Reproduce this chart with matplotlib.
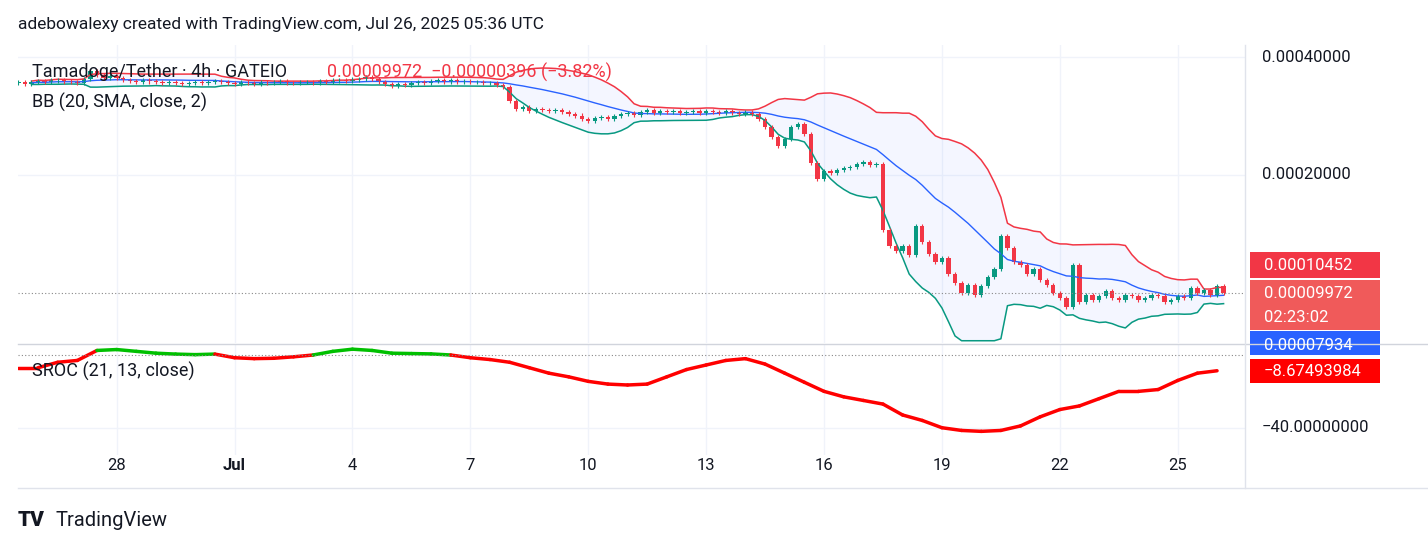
import numpy as np, pandas as pd
import matplotlib
matplotlib.use("Agg")
import matplotlib.pyplot as plt
from matplotlib.lines import Line2D

plt.rcParams["font.family"] = "Roboto"

# 4h closes (x1e-5) starting Jun 25 12:00
closes_e5 = [34.5,34.2,34.6,
 34.8,34.5,34.9,35.0,34.7,34.6, 34.4,35.2,36.8,36.0,35.5,35.8,
 35.4,35.0,34.8,34.6,34.9,34.7, 34.5,34.3,34.6,34.4,34.2,34.4,
 34.6,34.3,34.5,34.8,34.5,34.3, 34.2,34.5,34.4,34.2,34.6,34.3,
 34.5,34.7,34.4,34.3,34.5,34.6, 34.4,34.8,34.6,34.9,35.0,34.8,
 35.1,35.3,35.6,35.2,34.5,34.1, 33.8,34.2,34.0,34.3,34.6,34.4,
 34.8,35.0,34.7,34.9,34.6,34.8, 34.5,34.6,34.3,34.4,34.0,33.6,
 31.0,29.5,29.8,29.2,29.5,29.4, 29.2,29.3,29.0,28.7,28.4,27.8,
 27.5,28.0,28.2,27.9,28.3,28.6, 28.8,28.5,29.0,29.3,28.9,29.1,
 29.0,29.2,28.8,29.0,29.1,28.9, 29.2,29.0,28.8,29.1,28.9,28.7,
 29.0,28.6,27.8,26.5,25.0,23.8, 24.8,26.5,27.0,25.5,21.5,19.5,
 20.5,20.2,20.6,20.9,21.0,21.3, 21.6,21.2,21.4,14.5,13.2,12.8,
 13.2,12.5,14.8,13.5,12.6,12.0, 12.3,11.2,10.6,10.0,10.5,9.9,
 10.4,11.0,11.5,14.0,13.0,12.0, 11.8,11.2,11.5,10.8,10.5,10.0,
 9.7,9.2,11.8,9.5,9.9,9.6, 9.8,10.1,9.7,9.6,9.9,9.8,
 9.6,9.7,9.9,9.8,9.5,9.6, 9.8,9.7,10.3,10.0,10.2,9.9,
 10.4,9.972]
first_open_e5 = 34.3
# SROC per 12h from Jun 25 12:00
sroc = [-7,-7,-4,-3,2.5,3,2,1,0.5,0.2,0.5,-1.5,-2,-1.8,-1,0,2,3.2,2.5,1,0.8,0.6,0,-1.5,-2.5,
 -4,-7,-10,-12,-14.5,-16,-16.5,-16,-12,-8,-5.5,-3,-2,-5,-10,-15,-20,-23,-25,-27,-33,-36,
 -40,-41.5,-42,-41.5,-39,-34,-30,-28,-24,-20,-20,-19,-14,-10,-8.67]
day_ticks = [28, 30+1, 30+4, 30+7, 30+10, 30+13, 30+16, 30+19, 30+22, 30+25]  # days since Jun 0
day_labels = ["28","Jul","4","7","10","13","16","19","22","25"]
price_ticks = [0.0002, 0.0004]
price_tick_labels = ["0.00020000", "0.00040000"]

c = np.array(closes_e5) * 1e-5
o = np.concatenate([[first_open_e5 * 1e-5], c[:-1]])
t = 25.5 + np.arange(len(c)) / 6.0  # day coordinate
s = pd.Series(c)
mid = s.rolling(20, min_periods=3).mean()
sd = s.rolling(20, min_periods=3).std(ddof=0)
up, lo = mid + 2 * sd, mid - 2 * sd

W, H = 1428, 549
fig = plt.figure(figsize=(W/100, H/100), dpi=100)
L, R = 18/W, 1245/W
ax = fig.add_axes([L, (H-343)/H, R-L, 298/H])
ax2 = fig.add_axes([L, (H-455)/H, R-L, 110/H], sharex=ax)
x0 = 25.5 - 0.01
x1 = x0 + (1245-18)/39.3
ax.set_xlim(x0, x1)
ax.set_yscale("log")
ax.set_ylim(0.0000745, 0.00043)

grid = "#f0f3fa"
for a in (ax, ax2):
    for sp in a.spines.values(): sp.set_visible(False)
    a.tick_params(left=False, right=False, bottom=False, labelleft=False, labelbottom=False)
    for d in day_ticks: a.axvline(d, color=grid, lw=1, zorder=0)
for p in price_ticks: ax.axhline(p, color=grid, lw=1, zorder=0)
ax2.axhline(-40, color=grid, lw=1, zorder=0)
ax.minorticks_off()

lo_plot = lo.clip(lower=0.0000755)
ax.fill_between(t, lo_plot, up, color="#2962ff", alpha=0.05, lw=0)
ax.plot(t, up, color="#f23645", lw=1.1)
ax.plot(t, lo_plot, color="#089981", lw=1.1)
ax.plot(t, mid, color="#2962ff", lw=1.0)

g, r = "#089981", "#f23645"
bw = 0.11
for ti, oi, ci in zip(t, o, c):
    col = g if ci >= oi else r
    hi, low = max(oi, ci) * 1.012, min(oi, ci) * 0.988
    ax.vlines(ti, low, hi, color=col, lw=0.8)
    ax.bar(ti, max(abs(ci-oi), ci*0.002), bottom=min(oi, ci), width=bw, color=col, lw=0)

ax.axhline(c[-1], color="#888888", lw=0.8, ls=(0, (1, 2)))

ts = 25.5 + np.arange(len(sroc)) / 2.0
sr = np.array(sroc, float)
for i in range(len(sr)-1):
    col = "#00c000" if (sr[i] >= 0 and sr[i+1] >= 0) else "#ff0000"
    ax2.plot(ts[i:i+2], sr[i:i+2], color=col, lw=2.5, solid_capstyle="round")
ax2.set_ylim(-55, 5.5)
ax2.axhline(0, color="#888888", lw=0.8, ls=(0, (1, 2)))

fig.add_artist(Line2D([L, 1], [(H-344)/H]*2, color="#d1d4dc", lw=1))
fig.add_artist(Line2D([L, 1], [(H-488)/H]*2, color="#e0e3eb", lw=1))
fig.add_artist(Line2D([R, R], [(H-488)/H, (H-45)/H], color="#e0e3eb", lw=1))

def ylab(yp, text, **kw):
    fig.text(1262/W, (H-yp)/H, text, fontsize=12, va="center", ha="left", color="#131722", **kw)
ylab(57, price_tick_labels[1]); ylab(175, price_tick_labels[0]); ylab(428, "\u221240.00000000")
for d, lab in zip(day_ticks, day_labels):
    fig.text((18 + (d - 25.5) * 39.3)/W, (H-466)/H, lab, fontsize=12, ha="center", va="center",
             color="#131722", fontweight="bold" if lab == "Jul" else "normal")

def box(y0, y1, color, lines):
    fig.add_artist(plt.Rectangle((1250/W, (H-y1)/H), 130/W, (y1-y0)/H, color=color, transform=fig.transFigure, lw=0))
    for yy, txt in lines:
        fig.text(1264/W, (H-yy)/H, txt, fontsize=12, color="white", va="center", ha="left")
box(331, 355, "#2962ff", [(345, "0.00007934")])
box(280, 330, "#f05a5a", [(293, "0.00009972"), (318, "02:23:02")])
box(252, 278, "#f23645", [(265, "0.00010452")])
box(359, 383, "#ff0000", [(371, "\u22128.67493984")])

fig.text(18/W, (H-25)/H, "adebowalexy created with TradingView.com, Jul 26, 2025 05:36 UTC", fontsize=12.5, color="#131722", va="center")
fig.text(32/W, (H-72)/H, "Tamadoge/Tether \u00b7 4h \u00b7 GATEIO", fontsize=13, color="#131722", va="center")
fig.text(327/W, (H-72)/H, "0.00009972  \u22120.00000396 (\u22123.82%)", fontsize=13, color="#f23645", va="center")
fig.text(32/W, (H-102)/H, "BB (20, SMA, close, 2)", fontsize=13, color="#131722", va="center")
fig.text(32/W, (H-371)/H, "SROC (21, 13, close)", fontsize=13, color="#131722", va="center")
fig.text(18/W, (H-520)/H, "TV", fontsize=15, color="#131722", va="center", fontweight="black")
fig.text(56/W, (H-520)/H, "TradingView", fontsize=14.5, color="#131722", va="center")

fig.savefig("out.png", dpi=100, facecolor="white")
